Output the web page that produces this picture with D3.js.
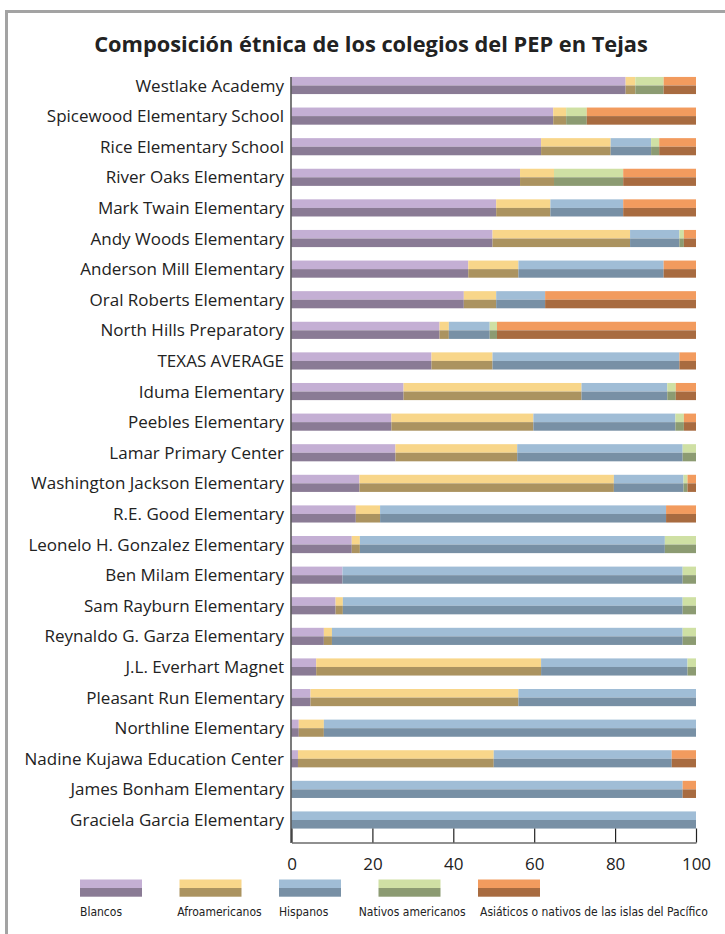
<!DOCTYPE html>
<html>
<head>
<meta charset="utf-8">
<title>Composición étnica</title>
<script src="https://d3js.org/d3.v7.min.js"></script>
<style>
    body { margin: 0; background: white; }
    svg { display: block; }
    text { font-family: "Open Sans", sans-serif; fill: #222; }
</style>
</head>
<body>
<svg id="chart" width="725" height="934"></svg>
<script>
// data (percent)
let schools = [
    "Westlake Academy", "Spicewood Elementary School", "Rice Elementary School",
    "River Oaks Elementary", "Mark Twain Elementary", "Andy Woods Elementary",
    "Anderson Mill Elementary", "Oral Roberts Elementary", "North Hills Preparatory",
    "TEXAS AVERAGE", "Iduma Elementary", "Peebles Elementary", "Lamar Primary Center",
    "Washington Jackson Elementary", "R.E. Good Elementary", "Leonelo H. Gonzalez Elementary",
    "Ben Milam Elementary", "Sam Rayburn Elementary", "Reynaldo G. Garza Elementary",
    "J.L. Everhart Magnet", "Pleasant Run Elementary", "Northline Elementary",
    "Nadine Kujawa Education Center", "James Bonham Elementary", "Graciela Garcia Elementary"
]
let groups = ["Blancos", "Afroamericanos", "Hispanos", "Nativos americanos", "Asiáticos o nativos de las islas del Pacífico"]

let blancos        = [82.6, 64.7, 61.7, 56.5, 50.6, 49.7, 43.7, 42.6, 36.6, 34.6, 27.7, 24.7, 25.7, 16.8, 15.9, 14.9, 12.6, 10.9, 8.0, 6.1, 4.7, 1.8, 1.6, 0, 0]
let afroamericanos = [2.4, 3.2, 17.2, 8.4, 13.4, 34.0, 12.4, 8.0, 2.3, 15.1, 44.0, 35.1, 30.1, 62.9, 6.0, 2.0, 0, 1.8, 2.0, 55.6, 51.4, 6.2, 48.4, 0, 0]
let hispanos       = [0, 0, 10.0, 0, 18.0, 12.2, 35.9, 12.1, 10.1, 46.2, 21.2, 35.1, 40.9, 17.2, 70.7, 75.4, 84.1, 84.0, 86.7, 36.2, 43.9, 92.0, 44.0, 96.7, 100]
let nativos        = [7.0, 5.1, 2.0, 17.1, 0, 1.1, 0, 0, 1.8, 0, 2.1, 2.1, 3.3, 1.0, 0, 7.7, 3.3, 3.3, 3.3, 2.1, 0, 0, 0, 0, 0]
let asiaticos      = [8.0, 27.0, 9.1, 18.0, 18.0, 3.0, 8.0, 37.3, 49.2, 4.1, 5.0, 3.0, 0, 2.1, 7.4, 0, 0, 0, 0, 0, 0, 0, 6.0, 3.3, 0]

let xTicks = [0, 20, 40, 60, 80, 100]

let lightColors = ["#c4afd4", "#f8d68a", "#a0bdd6", "#cfe0a4", "#f29b5e"]
let darkColors  = ["#8a7b95", "#ab9360", "#7890a5", "#8c9b72", "#a86b40"]

let series = [blancos, afroamericanos, hispanos, nativos, asiaticos]

let svg = d3.select("#chart")

// frame
svg.append("path")
    .attr("d", "M725,11.5 H6.5 V934")
    .attr("fill", "none")
    .attr("stroke", "#a3a3a3")
    .attr("stroke-width", 3)

svg.append("text")
    .attr("x", 371).attr("y", 52)
    .attr("text-anchor", "middle")
    .style("font-size", "21.8px").style("font-weight", "bold")
    .text("Composición étnica de los colegios del PEP en Tejas")

let x = d3.scaleLinear().domain([0, 100]).range([291.5, 696])
let y = d3.scaleBand().domain(schools).range([70.2, 835.3]).paddingInner(0.44).paddingOuter(0.22)

// stacked rows
let rows = schools.map((s, i) => {
    let obj = { school: s }
    groups.forEach((g, j) => obj[g] = series[j][i])
    return obj
})
let stacked = d3.stack().keys(groups)(rows)

let bw = y.bandwidth()
let layers = svg.append("g").selectAll("g")
    .data(stacked).join("g")

layers.selectAll("rect.top")
    .data(d => d).join("rect")
    .attr("class", "top")
    .attr("x", d => x(d[0]))
    .attr("width", d => Math.max(0, x(d[1]) - x(d[0])))
    .attr("y", d => y(d.data.school))
    .attr("height", bw / 2)
    .attr("fill", (d, i, n) => lightColors[groups.indexOf(d3.select(n[i].parentNode).datum().key)])

layers.selectAll("rect.bot")
    .data(d => d).join("rect")
    .attr("class", "bot")
    .attr("x", d => x(d[0]))
    .attr("width", d => Math.max(0, x(d[1]) - x(d[0])))
    .attr("y", d => y(d.data.school) + bw / 2)
    .attr("height", bw / 2)
    .attr("fill", (d, i, n) => darkColors[groups.indexOf(d3.select(n[i].parentNode).datum().key)])

// category labels
svg.append("g").selectAll("text")
    .data(schools).join("text")
    .attr("x", 284)
    .attr("y", d => y(d) + bw / 2 + 6)
    .attr("text-anchor", "end")
    .style("font-size", "17px")
    .text(d => d)

// axes
svg.append("line")
    .attr("x1", 291).attr("x2", 291).attr("y1", 77).attr("y2", 843)
    .attr("stroke", "#222").attr("stroke-width", 1.2)

let xAxis = svg.append("g")
    .attr("transform", "translate(0,842.5)")
    .call(d3.axisBottom(x).tickValues(xTicks).tickSizeInner(-14).tickSizeOuter(0).tickPadding(0))
xAxis.select(".domain").attr("stroke", "#222").attr("stroke-width", 1.2)
xAxis.selectAll(".tick line").attr("stroke", "#222").attr("stroke-width", 1.2)
xAxis.selectAll(".tick text")
    .attr("y", 27)
    .attr("dy", 0)
    .style("font-size", "17px")
    .style("font-family", "'Open Sans', sans-serif")
    .attr("fill", "#222")

// legend
let legendX = d3.scaleBand().domain(groups).range([80, 577.5]).paddingInner(0)
let legendLabelX = [80, 177.3, 279, 358.8, 480]
let legend = svg.append("g").selectAll("g")
    .data(groups).join("g")
legend.append("rect")
    .attr("x", d => legendX(d)).attr("y", 879.5)
    .attr("width", 62).attr("height", 8.5)
    .attr("fill", (d, i) => lightColors[i])
legend.append("rect")
    .attr("x", d => legendX(d)).attr("y", 888)
    .attr("width", 62).attr("height", 8.7)
    .attr("fill", (d, i) => darkColors[i])
legend.append("text")
    .attr("x", (d, i) => legendLabelX[i]).attr("y", 916)
    .style("font-size", "12px")
    .style("font-family", "'Liberation Sans Narrow', 'DejaVu Sans Condensed', sans-serif")
    .text(d => d)
</script>
</body>
</html>
